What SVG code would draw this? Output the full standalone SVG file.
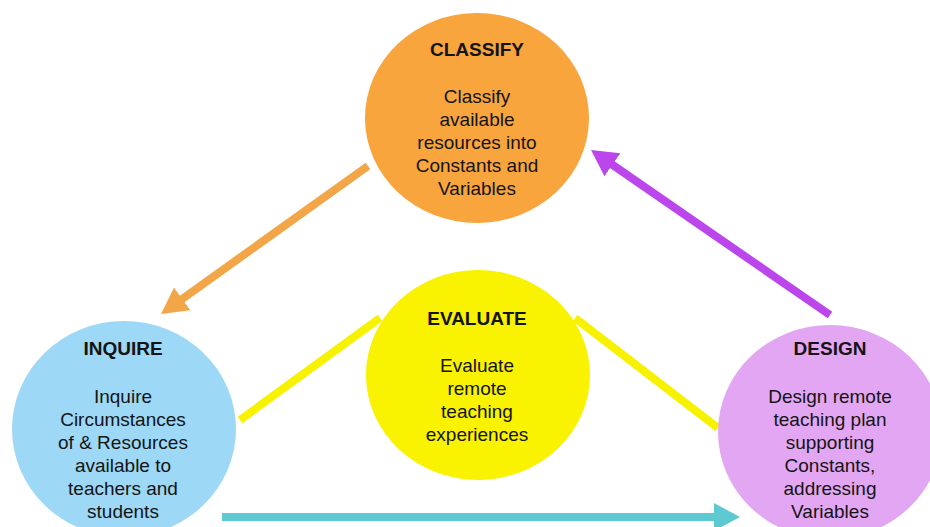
<svg xmlns="http://www.w3.org/2000/svg" width="930" height="527" viewBox="0 0 930 527">
<style>
.t{font-family:"Liberation Sans",Arial,sans-serif;font-size:19px;fill:#141414;text-anchor:middle}
.h{font-weight:bold}
.yl{stroke:#F7F200;stroke-width:8;stroke-linecap:butt;fill:none}
</style>
<defs>
<marker id="aO" markerUnits="userSpaceOnUse" markerWidth="30" markerHeight="30" refX="6" refY="14" orient="auto"><path d="M0,0 L26,14 L0,28 Z" fill="#F2A647"/></marker>
<marker id="aP" markerUnits="userSpaceOnUse" markerWidth="30" markerHeight="30" refX="6" refY="14" orient="auto"><path d="M0,0 L26,14 L0,28 Z" fill="#BB46EC"/></marker>
<marker id="aT" markerUnits="userSpaceOnUse" markerWidth="30" markerHeight="30" refX="6" refY="14" orient="auto"><path d="M0,0 L26,14 L0,28 Z" fill="#5EC9D0"/></marker>
</defs>
<rect width="930" height="527" fill="#ffffff"/>
<g id="connectors">
<line class="yl" x1="240" y1="420" x2="380" y2="318"/>
<line class="yl" x1="575" y1="318" x2="718" y2="428"/>
<line x1="368" y1="166" x2="177.3" y2="302.4" stroke="#F2A647" stroke-width="8" marker-end="url(#aO)"/>
<line x1="830" y1="315" x2="607.5" y2="161.4" stroke="#BB46EC" stroke-width="8" marker-end="url(#aP)"/>
<line x1="222" y1="517" x2="720" y2="517" stroke="#5EC9D0" stroke-width="8" marker-end="url(#aT)"/>
</g>
<g id="classify">
<ellipse cx="477" cy="118" rx="112" ry="105" fill="#F8A53E"/>
<text class="t h" x="477" y="56">CLASSIFY</text>
<text class="t" x="477" y="103">Classify</text>
<text class="t" x="477" y="126">available</text>
<text class="t" x="477" y="149">resources into</text>
<text class="t" x="477" y="172">Constants and</text>
<text class="t" x="477" y="195">Variables</text>
</g>
<g id="evaluate">
<ellipse cx="478" cy="375" rx="112" ry="105" fill="#F9F200"/>
<text class="t h" x="477" y="325">EVALUATE</text>
<text class="t" x="477" y="372">Evaluate</text>
<text class="t" x="477" y="395">remote</text>
<text class="t" x="477" y="418">teaching</text>
<text class="t" x="477" y="441">experiences</text>
</g>
<g id="inquire">
<ellipse cx="124" cy="429" rx="112" ry="108" fill="#9DD8F6"/>
<text class="t h" x="123" y="355">INQUIRE</text>
<text class="t" x="123" y="403">Inquire</text>
<text class="t" x="123" y="426">Circumstances</text>
<text class="t" x="123" y="449">of &amp; Resources</text>
<text class="t" x="123" y="472">available to</text>
<text class="t" x="123" y="495">teachers and</text>
<text class="t" x="123" y="518">students</text>
</g>
<g id="design">
<ellipse cx="830" cy="432" rx="112" ry="107" fill="#E3A6F3"/>
<text class="t h" x="830" y="355">DESIGN</text>
<text class="t" x="830" y="403">Design remote</text>
<text class="t" x="830" y="426">teaching plan</text>
<text class="t" x="830" y="449">supporting</text>
<text class="t" x="830" y="472">Constants,</text>
<text class="t" x="830" y="495">addressing</text>
<text class="t" x="830" y="518">Variables</text>
</g>
</svg>
